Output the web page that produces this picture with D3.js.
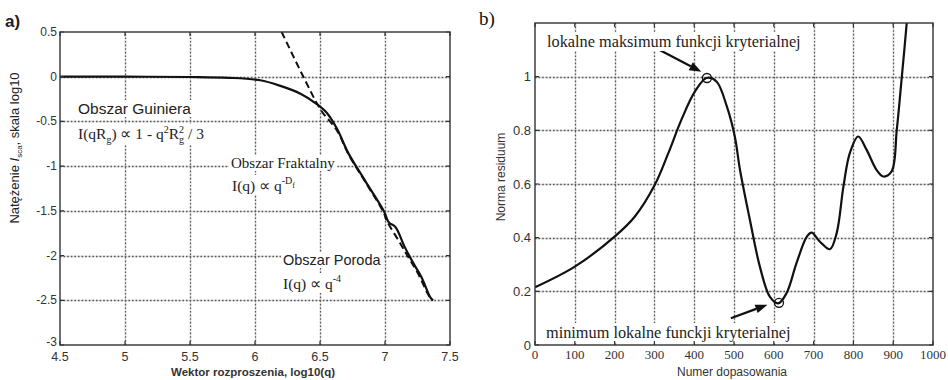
<!DOCTYPE html>
<html>
<head>
<meta charset="utf-8">
<script src="https://cdn.jsdelivr.net/npm/d3@7"></script>
<style>
  body { margin: 0; background: #fff; }
  svg { display: block; }
</style>
</head>
<body>
<div id="chart"></div>
<script>
// --- dane: panel a) ---
const xTicksA = [4.5, 5, 5.5, 6, 6.5, 7, 7.5];
const yTicksA = [0.5, 0, -0.5, -1, -1.5, -2, -2.5, -3];
const logQ = [4.5, 5.0, 5.5, 5.8, 6.04, 6.19, 6.35, 6.47, 6.55, 6.63, 6.72, 6.85, 6.99, 7.03, 7.08, 7.15, 7.22, 7.28, 7.35, 7.37];
const logI = [0, 0, -0.003, -0.012, -0.04, -0.1, -0.19, -0.3, -0.4, -0.58, -0.86, -1.17, -1.5, -1.63, -1.68, -1.9, -2.09, -2.24, -2.47, -2.5];
const fitQ = [6.205, 6.372, 6.51, 6.63, 6.72, 6.85, 6.99, 7.01, 7.12, 7.18, 7.25, 7.33, 7.36];
const fitI = [0.5, 0, -0.38, -0.6, -0.87, -1.18, -1.52, -1.6, -1.87, -2.02, -2.19, -2.43, -2.5];

// --- dane: panel b) ---
const xTicksB = [0, 100, 200, 300, 400, 500, 600, 700, 800, 900, 1000];
const yTicksB = [0, 0.2, 0.4, 0.6, 0.8, 1];
const fitNo = [0, 100, 200, 251, 301, 335, 368, 402, 431, 456, 482, 502, 515, 540, 565, 590, 611, 632, 657, 683, 695, 716, 741, 758, 775, 791, 812, 833, 858, 875, 896, 909, 921, 934, 945];
const residNorm = [0.215, 0.292, 0.404, 0.479, 0.597, 0.715, 0.84, 0.945, 0.995, 0.982, 0.889, 0.777, 0.653, 0.466, 0.292, 0.18, 0.155, 0.193, 0.305, 0.404, 0.419, 0.385, 0.357, 0.417, 0.591, 0.715, 0.777, 0.728, 0.653, 0.628, 0.647, 0.802, 0.989, 1.2, 1.4];
const extremaNo = [432, 613];
const extremaVal = [0.995, 0.157];

const W = 948, H = 380;
const svg = d3.select('#chart').append('svg')
    .attr('width', W).attr('height', H)
    .attr('font-family', 'Arial, "Liberation Sans", sans-serif');

const serif = '"Times New Roman", "Liberation Serif", serif';

// tekst z białym tłem (zasłania siatkę jak w oryginale)
function boxedText(g, x, y, build, pad = 2) {
    const t = g.append('text').attr('x', x).attr('y', y);
    build(t);
    const b = t.node().getBBox();
    g.insert('rect', () => t.node())
        .attr('x', b.x - pad).attr('y', b.y - pad + 2)
        .attr('width', b.width + 2 * pad).attr('height', b.height + 2 * pad - 4)
        .attr('fill', '#fff');
    return t;
}

// siatka kropkowana - jako ścieżki (jasna linia + kropki)
function frame(g, x, y, xTicks, yTicks) {
    const [x0, x1] = x.range(), [y0, y1] = y.range();
    const vx = xTicks.slice(1, -1).map(d => Math.round(x(d)) + 0.5);
    const hy = yTicks.filter(d => y(d) > y1 + 1 && y(d) < y0 - 1).map(d => Math.round(y(d)) + 0.5);
    const d = vx.map(v => `M${v},${y0}V${y1}`).join('') +
              hy.map(h => `M${x0},${h}H${x1}`).join('');
    g.append('path').attr('d', d)
        .attr('fill', 'none').attr('stroke', '#dcdcdc').attr('stroke-width', 1.4);
    g.append('path').attr('d', d)
        .attr('fill', 'none').attr('stroke', '#5a5a5a').attr('stroke-width', 1.3)
        .attr('stroke-dasharray', '1.6,2');
}

function border(g, x, y, xTicks, yTicks) {
    const [x0, x1] = x.range(), [y0, y1] = y.range();
    const d = xTicks.map(t => `M${x(t)},${y0}v-4M${x(t)},${y1}v4`).join('') +
              yTicks.map(t => `M${x0},${y(t)}h4M${x1},${y(t)}h-4`).join('');
    g.append('path').attr('d', d).attr('fill', 'none')
        .attr('stroke', '#333').attr('stroke-width', 1.2);
    g.append('rect').attr('x', x0).attr('y', y1)
        .attr('width', x1 - x0).attr('height', y0 - y1)
        .attr('fill', 'none').attr('stroke', '#333').attr('stroke-width', 1.4);
}

// ================= panel a) =================
const xA = d3.scaleLinear().domain([4.5, 7.5]).range([60, 450]);
const yA = d3.scaleLinear().domain([-3, 0.5]).range([345, 32]);
const gA = svg.append('g');

frame(gA, xA, yA, xTicksA, yTicksA);

gA.append('path')
    .datum(fitQ.map((q, i) => [q, fitI[i]]))
    .attr('fill', 'none').attr('stroke', '#111').attr('stroke-width', 2)
    .attr('stroke-dasharray', '7,4')
    .attr('d', d3.line().x(d => xA(d[0])).y(d => yA(d[1])).curve(d3.curveCatmullRom));

gA.append('path')
    .datum(logQ.map((q, i) => [q, logI[i]]))
    .attr('fill', 'none').attr('stroke', '#111').attr('stroke-width', 2.2)
    .attr('d', d3.line().x(d => xA(d[0])).y(d => yA(d[1])).curve(d3.curveCatmullRom));

// opisy obszarów
const lab = gA.append('g').attr('fill', '#222');
boxedText(lab, 78, 114, t => t.attr('font-size', 15.5).text('Obszar Guiniera'));
boxedText(lab, 78, 139, t => {
    t.attr('font-family', serif).attr('font-size', 15.5);
    t.append('tspan').text('I(qR');
    t.append('tspan').attr('font-size', 10).attr('dy', 4).text('g');
    t.append('tspan').attr('dy', -4).text(') \u221D 1 - q');
    t.append('tspan').attr('font-size', 10).attr('dy', -6).text('2');
    t.append('tspan').attr('dy', 6).text('R');
    t.append('tspan').attr('font-size', 10).attr('dy', -6).text('2');
    t.append('tspan').attr('font-size', 10).attr('dx', -5).attr('dy', 10).text('g');
    t.append('tspan').attr('dy', -4).text(' / 3');
});
boxedText(lab, 231, 168, t => t.attr('font-family', serif).attr('font-size', 15).text('Obszar Fraktalny'));
boxedText(lab, 232, 191, t => {
    t.attr('font-family', serif).attr('font-size', 15.5);
    t.append('tspan').text('I(q) \u221D q');
    t.append('tspan').attr('font-size', 10).attr('dy', -7).text('-D');
    t.append('tspan').attr('font-size', 8).attr('dy', 4).text('f');
});
boxedText(lab, 283, 265, t => t.attr('font-size', 14.5).text('Obszar Poroda'));
boxedText(lab, 283, 289, t => {
    t.attr('font-family', serif).attr('font-size', 15.5);
    t.append('tspan').text('I(q) \u221D q');
    t.append('tspan').attr('font-size', 10).attr('dy', -7).text('-4');
});

border(gA, xA, yA, xTicksA, yTicksA);

gA.append('g').selectAll('text').data(yTicksA).enter().append('text')
    .attr('x', 57).attr('y', d => Math.min(yA(d) + 4, 346))
    .attr('text-anchor', 'end').attr('font-size', 12).attr('fill', '#333')
    .text(d => String(d));
gA.append('g').selectAll('text').data(xTicksA).enter().append('text')
    .attr('x', d => xA(d)).attr('y', 361)
    .attr('text-anchor', 'middle').attr('font-size', 12.5).attr('fill', '#333')
    .text(d => String(d));

gA.append('text').attr('x', 253).attr('y', 376).attr('text-anchor', 'middle')
    .attr('font-size', 11.5).attr('font-weight', 'bold').attr('fill', '#333')
    .text('Wektor rozproszenia, log10(q)');

const yt = gA.append('text').attr('transform', 'translate(19,148) rotate(-90)')
    .attr('text-anchor', 'middle').attr('font-size', 13).attr('fill', '#222');
yt.append('tspan').text('Natężenie ');
yt.append('tspan').attr('font-style', 'italic').text('I');
yt.append('tspan').attr('font-size', 8).attr('dy', 3).text('sca');
yt.append('tspan').attr('dy', -3).text(', skala log10');

svg.append('text').attr('x', 5).attr('y', 27).attr('font-size', 17).attr('font-weight', 'bold')
    .attr('fill', '#222').text('a)');

// ================= panel b) =================
const xB = d3.scaleLinear().domain([0, 1000]).range([535, 933]);
const yB = d3.scaleLinear().domain([0, 1.2]).range([345, 23]);
const gB = svg.append('g');

frame(gB, xB, yB, xTicksB, yTicksB);

gB.append('clipPath').attr('id', 'clipB').append('rect')
    .attr('x', 535).attr('y', 23).attr('width', 398).attr('height', 322);

gB.append('path')
    .datum(fitNo.map((n, i) => [n, residNorm[i]]))
    .attr('clip-path', 'url(#clipB)')
    .attr('fill', 'none').attr('stroke', '#111').attr('stroke-width', 2.2)
    .attr('d', d3.line().x(d => xB(d[0])).y(d => yB(d[1])).curve(d3.curveCatmullRom));

gB.selectAll('.ext').data(extremaNo).enter().append('circle')
    .attr('cx', d => xB(d)).attr('cy', (d, i) => yB(extremaVal[i]))
    .attr('r', 4.5).attr('fill', 'none').attr('stroke', '#111').attr('stroke-width', 1.3);

// strzałki
const arrows = [
    { from: [312, 1.1], to: [418, 1.018] },
    { from: [492, 0.1], to: [584, 0.15] }
];
arrows.forEach(a => {
    const x1 = xB(a.from[0]), y1 = yB(a.from[1]), x2 = xB(a.to[0]), y2 = yB(a.to[1]);
    const ang = Math.atan2(y2 - y1, x2 - x1), L = 12, w = 4.5;
    const bx = x2 - L * Math.cos(ang), by = y2 - L * Math.sin(ang);
    gB.append('line').attr('x1', x1).attr('y1', y1).attr('x2', bx).attr('y2', by)
        .attr('stroke', '#111').attr('stroke-width', 2.2);
    gB.append('path')
        .attr('d', `M${x2},${y2}L${bx + w * Math.sin(ang)},${by - w * Math.cos(ang)}L${bx - w * Math.sin(ang)},${by + w * Math.cos(ang)}Z`)
        .attr('fill', '#111');
});

const labB = gB.append('g').attr('fill', '#222').attr('font-family', serif).attr('font-size', 16.3);
boxedText(labB, 547, 47, t => t.text('lokalne maksimum funkcji kryterialnej'));
boxedText(labB, 546, 338, t => t.text('minimum lokalne funckji kryterialnej'));

border(gB, xB, yB, xTicksB, yTicksB);

gB.append('g').selectAll('text').data(yTicksB).enter().append('text')
    .attr('x', 531).attr('y', d => yB(d) + 4.5)
    .attr('text-anchor', 'end').attr('font-size', 13).attr('fill', '#333')
    .text(d => String(d));
gB.append('g').selectAll('text').data(xTicksB).enter().append('text')
    .attr('x', d => xB(d)).attr('y', 359)
    .attr('text-anchor', 'middle').attr('font-size', 13).attr('font-family', serif)
    .attr('fill', '#333')
    .text(d => String(d));

gB.append('text').attr('x', 732).attr('y', 376).attr('text-anchor', 'middle')
    .attr('font-size', 12).attr('fill', '#333').text('Numer dopasowania');
gB.append('text').attr('transform', 'translate(505,177) rotate(-90)')
    .attr('text-anchor', 'middle').attr('font-size', 12).attr('fill', '#333')
    .text('Norma residuum');

svg.append('text').attr('x', 479).attr('y', 25).attr('font-size', 19)
    .attr('font-family', serif).attr('fill', '#111').text('b)');
</script>
</body>
</html>
